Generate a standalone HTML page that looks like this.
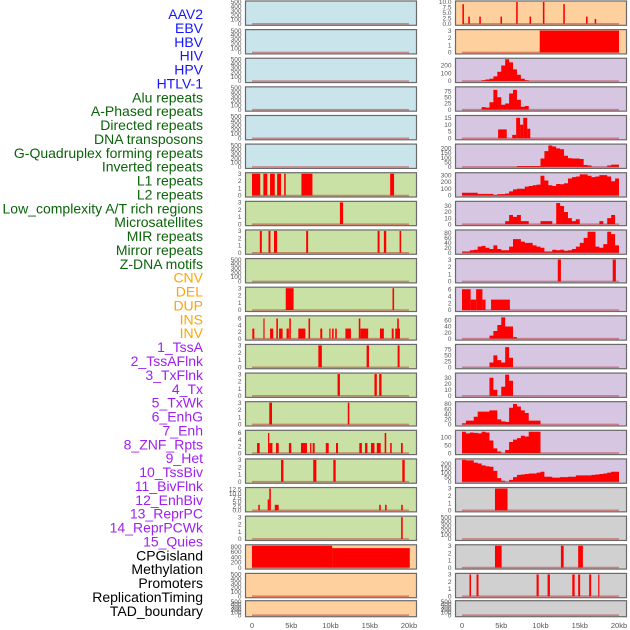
<!DOCTYPE html>
<html><head><meta charset="utf-8">
<style>
html,body{margin:0;padding:0;background:#fff;}
svg{display:block;font-family:"Liberation Sans",sans-serif;}
</style></head>
<body>
<svg id="chart" width="630" height="630" viewBox="0 0 630 630" xmlns="http://www.w3.org/2000/svg"></svg>
<script>
// ---- label data ----
const labelNames = ["AAV2","EBV","HBV","HIV","HPV","HTLV-1","Alu repeats","A-Phased repeats","Directed repeats","DNA transposons","G-Quadruplex forming repeats","Inverted repeats","L1 repeats","L2 repeats","Low_complexity A/T rich regions","Microsatellites","MIR repeats","Mirror repeats","Z-DNA motifs","CNV","DEL","DUP","INS","INV","1_TssA","2_TssAFlnk","3_TxFlnk","4_Tx","5_TxWk","6_EnhG","7_Enh","8_ZNF_Rpts","9_Het","10_TssBiv","11_BivFlnk","12_EnhBiv","13_ReprPC","14_ReprPCWk","15_Quies","CPGisland","Methylation","Promoters","ReplicationTiming","TAD_boundary"];
const labelGroups = [6,13,5,15,5];
const groupColors = ["#1515ff","#0a640a","#ffa500","#a020f0","#000000"];
const xTickValues = [0,5,10,15,20];
const xTickLabels = ["0","5kb","10kb","15kb","20kb"];

// ---- panel data (kb) ----
const leftBg = ["b","b","b","b","b","b","g","g","g","g","g","g","g","g","g","g","g","g","g","o","o","o"];
const rightBg = ["o","o","p","p","p","p","p","p","p","p","p","p","p","p","p","p","p","g2","g2","g2","g2","g2"];
const leftMax = [500,500,500,500,500,500,3,3,3,500,3,6.5,3,3,3,6.5,3,13,3,830,500,500];
const rightMax = [10,3,280,88,16,235,320,36,88,3,6.3,72,92,36,85,138,240,3,500,3,3,500];
const leftTicks = [[0,100,200,300,400,500],[0,100,200,300,400,500],[0,100,200,300,400,500],[0,100,200,300,400,500],[0,100,200,300,400,500],[0,100,200,300,400,500],[0,1,2,3],[0,1,2,3],[0,1,2,3],[0,100,200,300,400,500],[0,1,2,3],[0,2,4,6],[0,1,2,3],[0,1,2,3],[0,1,2,3],[0,2,4,6],[0,1,2,3],[0,2.5,5,7.5,10,12.5],[0,1,2,3],[0,200,400,600,800],[0,100,200,300,400,500],[0,100,200,300,400,500]];
const rightTicks = [[0,2.5,5,7.5,10],[0,1,2,3],[0,100,200],[0,25,50,75],[0,5,10,15],[0,50,100,150,200],[0,100,200,300],[0,10,20,30],[0,20,40,60,80],[0,1,2,3],[0,2,4,6],[0,20,40,60],[0,25,50,75],[0,10,20,30],[0,20,40,60,80],[0,50,100],[0,50,100,150,200],[0,1,2,3],[0,100,200,300,400,500],[0,1,2,3],[0,1,2,3],[0,100,200,300,400,500]];
// bars: [startKb, endKb, value]
const leftBars = {
 6:[[0,1.05,3],[1.45,1.95,3],[2.3,2.9,3],[3.2,3.7,3],[4.1,4.3,3],[6.3,7.7,3],[17.6,18.1,3]],
 7:[[11.2,11.6,3]],
 8:[[1.0,1.25,3],[2.1,2.35,3],[2.8,3.2,3],[6.9,7.15,3],[16.0,16.25,3],[16.8,17.1,3],[18.8,19.0,3]],
 10:[[4.3,5.3,3],[17.9,18.1,3]],
 11:[[0.04,0.3,3],[1.45,1.6,6],[2.3,2.7,3],[3.1,3.3,6],[3.45,3.9,3],[4.4,4.7,3],[4.75,4.95,6],[5.9,6.8,3],[7.2,7.4,6],[8.7,8.95,3],[9.85,10.0,3],[10.2,10.4,3],[10.6,10.8,3],[11.9,12.6,3],[13.6,13.8,6],[13.8,14.8,3],[16.3,16.8,3],[17.8,18.05,3],[18.25,18.85,3],[18.5,18.7,6]],
 12:[[8.45,8.9,3],[14.6,14.9,3],[18.55,18.8,3]],
 13:[[10.9,11.2,3],[15.6,15.9,3],[16.2,16.5,3]],
 14:[[2.2,2.55,3],[12.2,12.4,3]],
 15:[[0.64,0.98,3],[2.04,2.2,6],[2.2,2.6,3],[3.06,3.4,3],[4.7,5.0,3],[6.24,7.0,3],[7.4,7.56,3],[7.73,7.98,3],[9.4,9.77,3],[10.7,10.96,3],[13.67,14.0,3],[14.4,14.7,3],[15.16,15.6,3],[15.9,16.4,3],[16.9,17.1,6],[17.6,17.8,3],[18.98,19.2,3]],
 16:[[3.7,4.0,3],[7.8,8.2,3],[10.36,10.66,3],[19.15,19.45,3]],
 17:[[0.8,1.0,3.3],[2.0,2.2,6.5],[2.2,2.4,13],[2.9,3.4,3.3],[16.2,16.4,3.3],[16.95,17.15,3.3],[19.0,19.2,3.3]],
 18:[[19.0,19.2,3]],
 19:[[0,10.2,830],[10.2,20.1,740]]
};
const rightBars = {
 0:[[0.05,0.25,9],[0.8,1.0,3.3],[2.2,2.4,3.3],[4.9,5.1,3.3],[6.9,7.1,10],[8.6,8.8,3.3],[10.3,10.5,10],[12.9,13.1,9],[15.8,16.0,3.3],[16.9,17.1,2.2]],
 1:[[9.9,20.0,3]],
 4:[[4.6,5.7,6.5],[6.4,6.9,2.5],[6.9,7.4,15],[7.4,7.8,10],[7.8,8.3,15],[8.3,8.7,7]],
 9:[[12.2,12.6,3],[19.2,19.6,3]],
 10:[[0,1.1,6],[1.1,1.8,3],[1.8,2.6,6],[2.6,3.0,3],[3.7,6.1,3]],
 17:[[4.2,5.8,3]],
 19:[[4.2,5.05,3],[12.6,12.95,3],[14.8,15.4,3]],
 20:[[0.95,1.15,3],[1.85,2.1,3],[9.5,9.77,3],[10.9,11.2,3],[14.05,14.35,3],[14.8,15.05,3],[16.2,16.45,3],[17.35,17.5,3]]
};
// profiles: 40 bins of 0.5 kb
const profHIV = [0,0,0,0,0,10,20,30,60,120,200,280,240,150,80,30,10,0,0,0,0,0,0,0,0,0,0,0,0,0,0,0,0,0,0,0,0,0,0,0];
const profHPV = [0,0,0,0,0,10,8,30,80,50,20,25,65,80,40,12,15,0,0,0,0,0,0,0,0,0,0,0,0,0,0,0,0,0,0,0,0,0,0,0];
const profHTLV = [0,0,0,0,0,0,0,0,0,0,0,0,0,0,10,10,10,10,10,10,90,170,230,220,200,190,120,95,90,90,85,20,15,0,0,0,0,15,25,25];
const profAlu = [40,40,40,40,25,25,25,25,10,20,20,30,60,90,100,100,130,140,150,160,290,220,150,140,170,165,180,250,270,280,310,310,290,270,280,300,300,280,210,250];
const profAPhased = [0,0,0,0,0,0,0,0,0,0,0,5,15,12,15,5,5,0,0,0,5,5,5,0,35,30,20,10,5,8,0,0,0,0,0,5,0,10,15,0];
const profDirected = [5,5,10,12,25,28,20,15,30,15,10,10,25,55,55,45,40,40,30,25,20,5,5,12,10,12,8,10,15,25,40,60,85,85,25,20,35,85,75,30];
const profInverted = [0,0,0,0,0,0,0,10,25,45,70,40,40,5,0,0,0,0,0,0,0,0,0,0,0,0,0,0,0,0,0,0,0,0,0,0,0,0,0,0];
const profL1 = [0,0,0,0,0,0,0,20,50,30,20,85,40,0,0,0,0,0,0,0,0,0,0,0,0,0,0,0,0,0,0,0,0,0,0,0,0,0,0,0];
const profL2 = [0,0,0,0,0,0,0,30,10,0,15,35,25,0,0,0,0,0,0,0,0,0,0,0,0,0,0,0,0,0,0,0,0,0,0,0,0,0,0,0];
const profLowComp = [5,15,15,30,50,50,50,55,55,20,12,10,65,80,70,55,45,15,15,15,0,0,0,0,0,0,0,0,0,0,0,0,0,0,0,0,0,0,0,0];
const profMicro = [135,125,130,128,125,135,130,80,30,10,0,20,70,85,95,110,105,135,135,135,0,0,0,0,0,0,0,0,0,0,0,0,0,0,0,0,0,0,0,0];
const profMIR = [240,235,235,210,200,180,170,165,120,40,10,0,20,50,75,80,85,90,90,100,110,55,55,45,45,50,50,55,55,70,70,70,70,75,80,85,90,100,110,110];
const rightProfiles = {2:profHIV,3:profHPV,5:profHTLV,6:profAlu,7:profAPhased,8:profDirected,11:profInverted,12:profL1,13:profL2,14:profLowComp,15:profMicro,16:profMIR};

// ---- layout ----
const NS = "http://www.w3.org/2000/svg";
const svg = document.getElementById("chart");
const bgColors = {b:"#c9e4eb",o:"#fed09e",p:"#d6c6e2",g:"#c9e1a4",g2:"#d0d0d0"};
const colX = [{x0:245.5,x1:416.5,z:252},{x0:455.5,x1:626.5,z:462}];
const kbScale = 157/20;
function mk(tag, attrs){const e=document.createElementNS(NS,tag);for(const k in attrs)e.setAttribute(k,attrs[k]);svg.appendChild(e);return e;}
function rowTop(i){return i<21 ? 1+i*28.62 : 600.7;}
function rowH(i){return i<21 ? 24.3 : 16;}

// labels
let li=0;
labelGroups.forEach((n,g)=>{
  for(let k=0;k<n;k++,li++){
    const t=mk("text",{x:203,y:(14+li*13.88+5).toFixed(1),"text-anchor":"end","font-size":"14",fill:groupColors[g]});
    t.textContent=labelNames[li];
    
    
  }
});

function drawPanel(i, side){
  const c=colX[side];
  const top=rowTop(i), h=rowH(i);
  const bg = side===0?leftBg[i]:rightBg[i];
  const ymax = side===0?leftMax[i]:rightMax[i];
  const ticks = side===0?leftTicks[i]:rightTicks[i];
  const yb = top+h-1.5, yt = top+1;
  const yS = v => yb-(v/ymax)*(yb-yt);
  const xS = kb => c.z+kb*kbScale;
  const r=mk("rect",{x:c.x0,y:top,width:c.x1-c.x0,height:h,fill:bgColors[bg]});
  
  
  // bars
  const bars=(side===0?leftBars:rightBars)[i]||[];
  bars.forEach(b=>{
    const y=yS(b[2]);
    const e=mk("rect",{x:xS(b[0]).toFixed(2),y:y.toFixed(2),width:Math.max(1.2,(b[1]-b[0])*kbScale).toFixed(2),height:(yb-y).toFixed(2),fill:"#ff0000"});
    
    
  });
  // profile
  const prof = side===1?rightProfiles[i]:null;
  if(prof){
    let d="M"+xS(0).toFixed(2)+","+yb.toFixed(2);
    prof.forEach((v,k)=>{const y=yS(v).toFixed(2);d+=" L"+xS(k*0.5).toFixed(2)+","+y+" L"+xS((k+1)*0.5).toFixed(2)+","+y;});
    d+=" L"+xS(20).toFixed(2)+","+yb.toFixed(2)+" Z";
    const p=mk("path",{d:d,fill:"#ff0000"});
    
    
  }
  // baseline
  const bl=mk("line",{x1:xS(0),x2:xS(20),y1:yb,y2:yb,stroke:"rgba(190,30,30,0.45)","stroke-width":1.6});
  
  
  // border
  const bd=mk("rect",{x:c.x0,y:top,width:c.x1-c.x0,height:h,fill:"none",stroke:"#6a6a6a","stroke-width":1.2});
  
  
  // ticks
  ticks.forEach(v=>{
    const t=mk("text",{x:c.x0-4,y:(yS(v)+2.2).toFixed(2),"text-anchor":"end","font-size":"6.5",fill:"#555"});
    t.textContent = (ymax<=13 && ticks.some(q=>q%1)) ? v.toFixed(1) : String(v);
    
    
  });
}
for(let i=0;i<22;i++){drawPanel(i,0);drawPanel(i,1);}

// x axis
colX.forEach(c=>{
  xTickValues.forEach((v,k)=>{
    const t=mk("text",{x:(c.z+v*kbScale).toFixed(1),y:628,"text-anchor":"middle","font-size":"7.5",fill:"#555"});
    t.textContent=xTickLabels[k];
    
    
  });
});
</script>
</body></html>
